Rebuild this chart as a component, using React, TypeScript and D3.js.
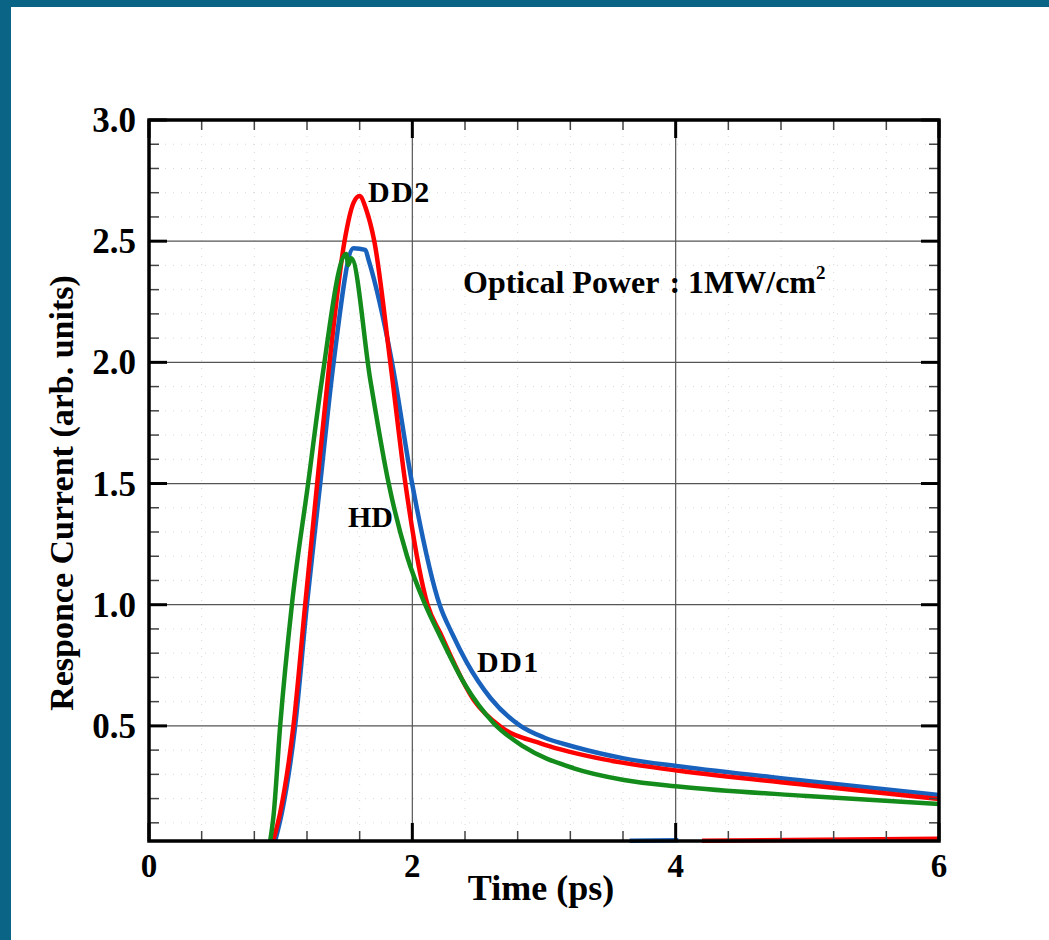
import React from "react";
import * as d3 from "d3";

// ---- data ----
const hdTime = [0.92, 0.945, 0.996, 1.085, 1.208, 1.313, 1.498, 1.513, 1.536, 1.681, 1.82, 1.96, 2.099, 2.213, 2.4, 2.618, 2.846, 3.227, 3.607, 4.038, 4.996, 6.0];
const hdValue = [0.025, 0.125, 0.499, 0.999, 1.498, 1.927, 2.447, 2.402, 2.43, 1.927, 1.501, 1.2, 0.999, 0.868, 0.67, 0.511, 0.414, 0.325, 0.277, 0.249, 0.211, 0.178];

const dd2Time = [0.943, 0.996, 1.097, 1.186, 1.277, 1.371, 1.485, 1.554, 1.599, 1.65, 1.711, 1.833, 1.947, 2.116, 2.213, 2.466, 2.669, 2.973, 3.354, 3.734, 4.038, 4.996, 6.0];
const dd2Value = [0.025, 0.141, 0.5, 0.999, 1.498, 1.999, 2.5, 2.659, 2.686, 2.63, 2.5, 1.999, 1.501, 0.999, 0.882, 0.607, 0.497, 0.428, 0.373, 0.336, 0.314, 0.256, 0.198];

const dd1Time = [0.958, 1.009, 1.11, 1.199, 1.3, 1.402, 1.554, 1.643, 1.668, 1.846, 1.998, 2.208, 2.304, 2.411, 2.593, 2.821, 3.0, 3.227, 3.607, 4.038, 4.996, 6.0];
const dd1Value = [0.025, 0.141, 0.5, 0.999, 1.498, 1.999, 2.471, 2.464, 2.422, 1.999, 1.501, 0.999, 0.879, 0.764, 0.615, 0.5, 0.452, 0.414, 0.366, 0.332, 0.273, 0.215];

const dd1BaseTime = [3.65, 4.02];
const dd1BaseValue = [0.026, 0.028];
const dd2BaseTime = [4.2, 6.0];
const dd2BaseValue = [0.026, 0.034];

const xMajorTicks = [0, 2, 4, 6];
const xTickLabels = ["0", "2", "4", "6"];
const yMajorTicks = [0.5, 1.0, 1.5, 2.0, 2.5, 3.0];
const yTickLabels = ["0.5", "1.0", "1.5", "2.0", "2.5", "3.0"];

const W = 1049;
const H = 940;
const PL = 149, PR = 939, PT = 120, PB = 841;
const FONT = "'Liberation Serif', 'Times New Roman', serif";

export default function App() {
  const x = d3.scaleLinear().domain([0, 6]).range([PL, PR]);
  const y = d3.scaleLinear().domain([0.025, 3.0]).range([PB, PT]);

  const xMinor = d3.range(0.4, 6, 0.4).filter((v) => Math.abs(v / 2 - Math.round(v / 2)) > 1e-6);
  const yMinor = d3.range(0.1, 3.0, 0.1).filter((v) => Math.abs(v / 0.5 - Math.round(v / 0.5)) > 1e-6);

  const mk = (ts: number[], vs: number[]) =>
    d3
      .line<number>()
      .x((_, i) => x(ts[i]))
      .y((_, i) => y(vs[i]))
      .curve(d3.curveMonotoneX)(vs) as string;

  const series = [
    { t: dd1BaseTime, v: dd1BaseValue, c: "#1862bd" },
    { t: dd2BaseTime, v: dd2BaseValue, c: "#ff0000" },
    { t: dd1Time, v: dd1Value, c: "#1862bd" },
    { t: dd2Time, v: dd2Value, c: "#ff0000" },
    { t: hdTime, v: hdValue, c: "#138c1c" },
  ];

  return (
    <div style={{ position: "absolute", left: 0, top: 0 }}>
      <svg width={W} height={H} style={{ display: "block" }}>
        <rect x={0} y={0} width={W} height={H} fill="#0a6485" />
        <rect x={11} y={7} width={W - 11} height={H - 7} fill="#ffffff" />
        <defs>
          <clipPath id="plotclip">
            <rect x={PL} y={PT - 2} width={PR - PL} height={PB - PT + 4} />
          </clipPath>
        </defs>

        {/* minor grid */}
        {xMinor.map((v) => (
          <line key={"gx" + v} x1={x(v)} x2={x(v)} y1={PT} y2={PB} stroke="#d8d8d8" strokeWidth={1} strokeDasharray="1,7" />
        ))}
        {yMinor.map((v) => (
          <line key={"gy" + v} x1={PL} x2={PR} y1={y(v)} y2={y(v)} stroke="#d8d8d8" strokeWidth={1} strokeDasharray="1,7" />
        ))}
        {/* major grid */}
        {xMajorTicks.slice(1, -1).map((v) => (
          <line key={"Gx" + v} x1={x(v)} x2={x(v)} y1={PT} y2={PB} stroke="#555" strokeWidth={1.2} />
        ))}
        {yMajorTicks.slice(0, -1).map((v) => (
          <line key={"Gy" + v} x1={PL} x2={PR} y1={y(v)} y2={y(v)} stroke="#555" strokeWidth={1.2} />
        ))}

        {/* curves */}
        <g clipPath="url(#plotclip)">
          {series.map((s, i) => (
            <path key={i} d={mk(s.t, s.v)} fill="none" stroke={s.c} strokeWidth={4.5} strokeLinejoin="round" />
          ))}
        </g>

        {/* ticks */}
        {xMinor.map((v) => (
          <g key={"tx" + v} stroke="#444" strokeWidth={1.5}>
            <line x1={x(v)} x2={x(v)} y1={PB} y2={PB - 10} />
            <line x1={x(v)} x2={x(v)} y1={PT} y2={PT + 10} />
          </g>
        ))}
        {yMinor.map((v) => (
          <g key={"ty" + v} stroke="#444" strokeWidth={1.5}>
            <line x1={PL} x2={PL + 10} y1={y(v)} y2={y(v)} />
            <line x1={PR} x2={PR - 10} y1={y(v)} y2={y(v)} />
          </g>
        ))}
        {xMajorTicks.map((v) => (
          <g key={"Tx" + v} stroke="#000" strokeWidth={3}>
            <line x1={x(v)} x2={x(v)} y1={PB} y2={PB - 18} />
            <line x1={x(v)} x2={x(v)} y1={PT} y2={PT + 18} />
          </g>
        ))}
        {yMajorTicks.map((v) => (
          <g key={"Ty" + v} stroke="#000" strokeWidth={3}>
            <line x1={PL} x2={PL + 18} y1={y(v)} y2={y(v)} />
            <line x1={PR} x2={PR - 18} y1={y(v)} y2={y(v)} />
          </g>
        ))}

        {/* frame */}
        <rect x={PL} y={PT} width={PR - PL} height={PB - PT} fill="none" stroke="#000" strokeWidth={3.5} />

        {/* tick labels */}
        <g fontFamily={FONT} fontWeight="bold" fill="#000">
          {xMajorTicks.map((v, i) => (
            <text key={"lx" + v} x={x(v)} y={877} fontSize={33} textAnchor="middle">
              {xTickLabels[i]}
            </text>
          ))}
          {yMajorTicks.map((v, i) => (
            <text key={"ly" + v} x={136} y={y(v) + 12} fontSize={35} textAnchor="end">
              {yTickLabels[i]}
            </text>
          ))}

          <text x={541} y={900} fontSize={36} textAnchor="middle">Time (ps)</text>
          <text transform={`translate(73, 493) rotate(-90)`} fontSize={34} textAnchor="middle">
            Responce Current (arb. units)
          </text>

          <text x={368} y={202} fontSize={30} letterSpacing={1.5}>DD2</text>
          <text x={477} y={672} fontSize={30} letterSpacing={1.5}>DD1</text>
          <text x={348} y={527} fontSize={30}>HD</text>
          <text x={463} y={293} fontSize={32}>
            Optical Power
            <tspan dx={10}>: 1MW/cm</tspan>
            <tspan fontSize={19} dy={-14}>2</tspan>
          </text>
        </g>
      </svg>
    </div>
  );
}
